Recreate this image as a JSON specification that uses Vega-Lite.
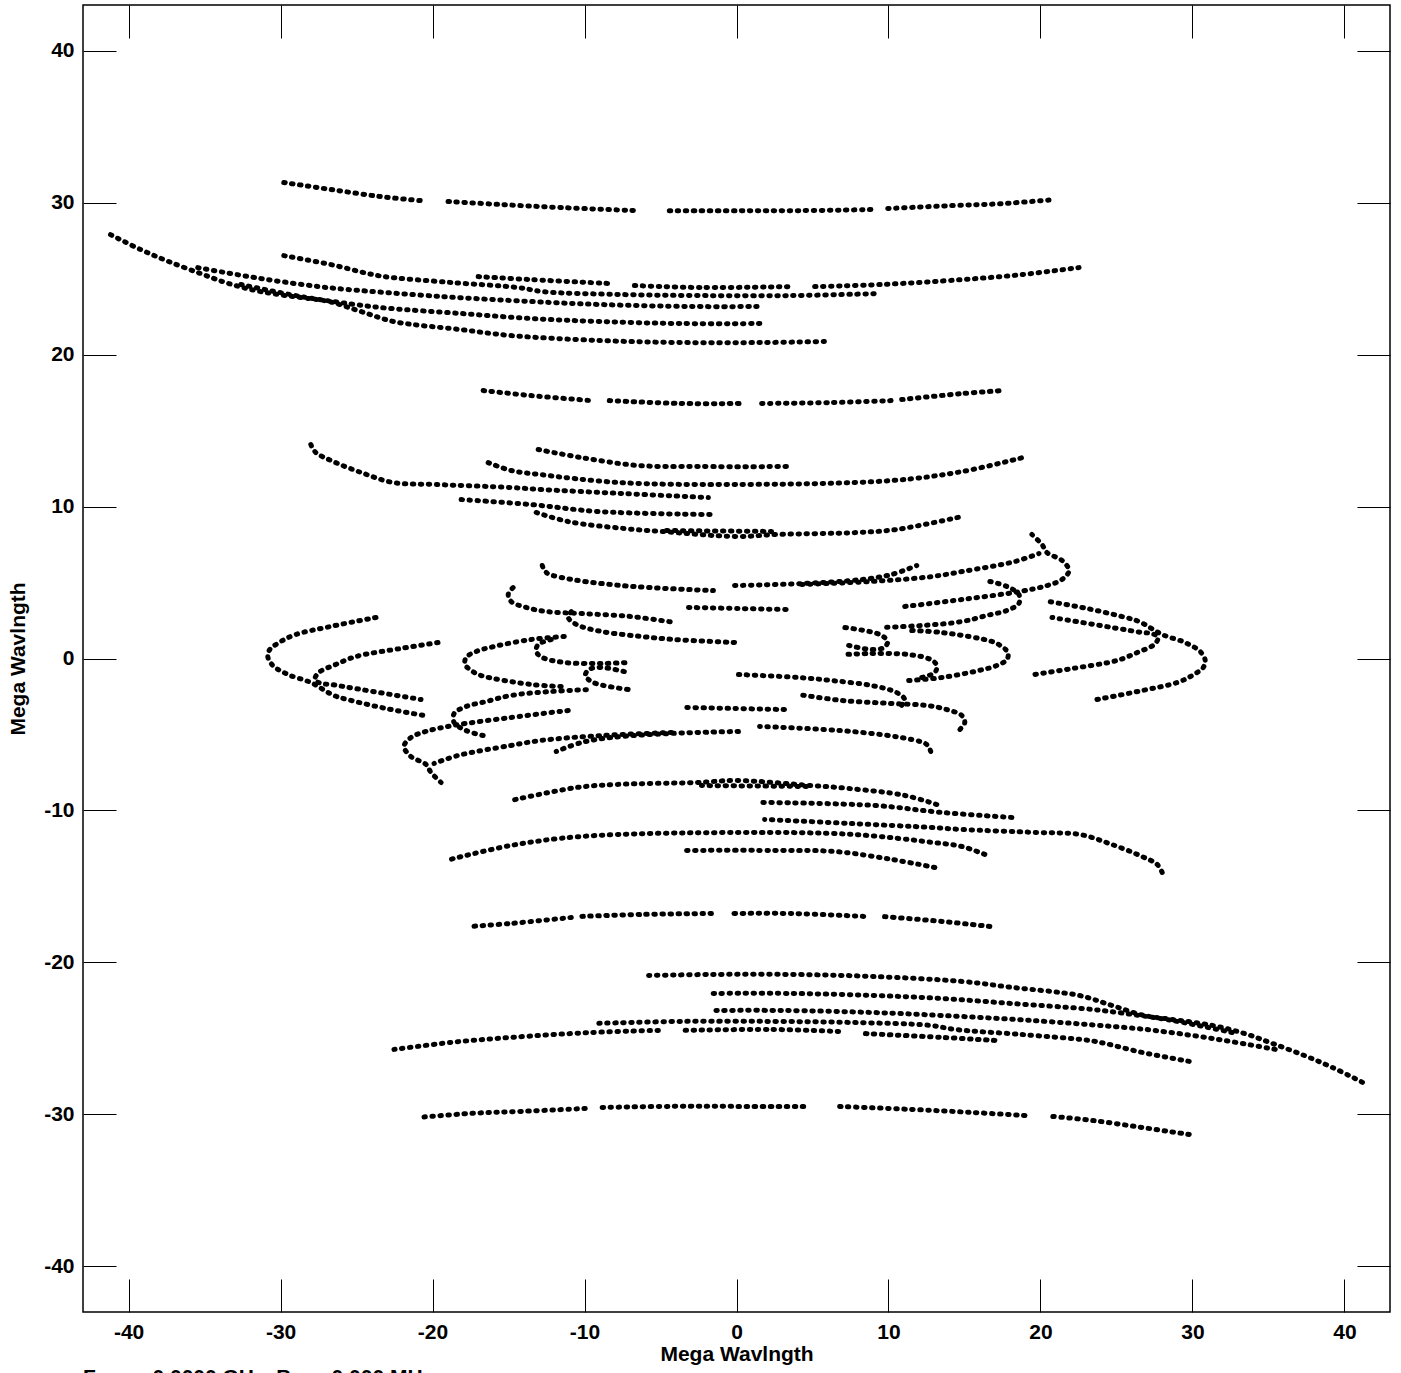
{
"$schema":"https://vega.github.io/schema/vega-lite/v6.json",
"width":1307,"height":1307,
"autosize":{"type":"none"},
"padding":{"left":83,"top":5,"right":11,"bottom":61},
"background":"white",
"config":{"view":{"stroke":"black","strokeWidth":1.5},"axis":{"tickColor":"black","tickWidth":1,"grid":false,"domain":false}},
"title":{"text":"Freq = 0.0000 GHz, Bw = 0.000 MHz","orient":"bottom","anchor":"start","frame":"group","fontSize":21,"fontWeight":"bold","font":"Liberation Sans","color":"black","baseline":"top","offset":3},
"data":{"values":[
{"t":"T30a","i":0,"u":-29.79,"v":31.32},{"t":"T30a","i":1,"u":-26.69,"v":30.86},{"t":"T30a","i":2,"u":-23.39,"v":30.39},{"t":"T30a","i":3,"u":-20.76,"v":30.13},
{"t":"T30b","i":0,"u":-18.98,"v":30.07},{"t":"T30b","i":1,"u":-15.49,"v":29.87},{"t":"T30b","i":2,"u":-11.53,"v":29.67},{"t":"T30b","i":3,"u":-6.59,"v":29.47},
{"t":"T30c","i":0,"u":-4.42,"v":29.47},{"t":"T30c","i":1,"u":0,"v":29.47},{"t":"T30c","i":2,"u":4.28,"v":29.47},{"t":"T30c","i":3,"u":8.9,"v":29.54},
{"t":"T30d","i":0,"u":9.95,"v":29.61},{"t":"T30d","i":1,"u":14.17,"v":29.8},{"t":"T30d","i":2,"u":17.46,"v":29.93},{"t":"T30d","i":3,"u":20.96,"v":30.2},
{"t":"L1","i":0,"u":-29.79,"v":26.51},{"t":"L1","i":1,"u":-26.69,"v":25.92},{"t":"L1","i":2,"u":-24.25,"v":25.33},{"t":"L1","i":3,"u":-23.2,"v":25.13},{"t":"L1","i":4,"u":-18.78,"v":24.74},{"t":"L1","i":5,"u":-14.37,"v":24.41},{"t":"L1","i":6,"u":-12.72,"v":24.14},{"t":"L1","i":7,"u":-7.58,"v":23.95},{"t":"L1","i":8,"u":-2.31,"v":23.88},{"t":"L1","i":9,"u":3.62,"v":23.88},{"t":"L1","i":10,"u":9.23,"v":24.01},
{"t":"Ca","i":0,"u":-17.0,"v":25.13},{"t":"Ca","i":1,"u":-13.51,"v":24.93},{"t":"Ca","i":2,"u":-8.24,"v":24.67},
{"t":"Cb","i":0,"u":-6.72,"v":24.54},{"t":"Cb","i":1,"u":-2.31,"v":24.41},{"t":"Cb","i":2,"u":3.43,"v":24.47},
{"t":"Cc","i":0,"u":5.14,"v":24.47},{"t":"Cc","i":1,"u":9.56,"v":24.61},{"t":"Cc","i":2,"u":14.83,"v":24.93},{"t":"Cc","i":3,"u":18.78,"v":25.26},{"t":"Cc","i":4,"u":22.54,"v":25.72},
{"t":"R3","i":0,"u":-35.45,"v":25.72},{"t":"R3","i":1,"u":-31.3,"v":25.0},{"t":"R3","i":2,"u":-27.48,"v":24.47},{"t":"R3","i":3,"u":-25.57,"v":24.28},{"t":"R3","i":4,"u":-19.44,"v":23.82},{"t":"R3","i":5,"u":-13.51,"v":23.49},{"t":"R3","i":6,"u":-8.9,"v":23.29},{"t":"R3","i":7,"u":-2.97,"v":23.16},{"t":"R3","i":8,"u":1.65,"v":23.16},
{"t":"R4","i":0,"u":-32.62,"v":24.61},{"t":"R4","i":1,"u":-28.67,"v":23.82},{"t":"R4","i":2,"u":-24.51,"v":23.22},{"t":"R4","i":3,"u":-22.73,"v":23.03},{"t":"R4","i":4,"u":-18.12,"v":22.7},{"t":"R4","i":5,"u":-13.51,"v":22.37},{"t":"R4","i":6,"u":-8.9,"v":22.17},{"t":"R4","i":7,"u":-3.62,"v":22.04},{"t":"R4","i":8,"u":1.85,"v":22.04},
{"t":"A","i":0,"u":-41.19,"v":27.89},{"t":"A","i":1,"u":-39.21,"v":26.91},{"t":"A","i":2,"u":-37.36,"v":26.12},{"t":"A","i":3,"u":-35.26,"v":25.33},{"t":"A","i":4,"u":-33.41,"v":24.67},{"t":"A","i":5,"u":-31.3,"v":24.14},{"t":"A","i":6,"u":-28.67,"v":23.75},{"t":"A","i":7,"u":-26.82,"v":23.49},{"t":"A","i":8,"u":-24.71,"v":22.83},{"t":"A","i":9,"u":-22.54,"v":22.17},{"t":"A","i":10,"u":-18.12,"v":21.64},{"t":"A","i":11,"u":-14.83,"v":21.25},{"t":"A","i":12,"u":-8.9,"v":20.92},{"t":"A","i":13,"u":-3.62,"v":20.79},{"t":"A","i":14,"u":1.65,"v":20.79},{"t":"A","i":15,"u":5.93,"v":20.86},
{"t":"M17a","i":0,"u":-16.67,"v":17.63},{"t":"M17a","i":1,"u":-13.51,"v":17.3},{"t":"M17a","i":2,"u":-9.56,"v":16.97},
{"t":"M17b","i":0,"u":-8.37,"v":16.97},{"t":"M17b","i":1,"u":-3.62,"v":16.78},{"t":"M17b","i":2,"u":0.46,"v":16.78},
{"t":"M17c","i":0,"u":1.65,"v":16.78},{"t":"M17c","i":1,"u":6.26,"v":16.84},{"t":"M17c","i":2,"u":10.21,"v":16.97},
{"t":"M17d","i":0,"u":10.87,"v":17.04},{"t":"M17d","i":1,"u":14.83,"v":17.43},{"t":"M17d","i":2,"u":17.46,"v":17.63},
{"t":"Um1","i":0,"u":-13.05,"v":13.75},{"t":"Um1","i":1,"u":-10.21,"v":13.22},{"t":"Um1","i":2,"u":-6.46,"v":12.7},{"t":"Um1","i":3,"u":-2.31,"v":12.63},{"t":"Um1","i":4,"u":3.62,"v":12.63},
{"t":"Um2","i":0,"u":-16.34,"v":12.89},{"t":"Um2","i":1,"u":-14.83,"v":12.37},{"t":"Um2","i":2,"u":-12.98,"v":12.11},{"t":"Um2","i":3,"u":-7.71,"v":11.58},{"t":"Um2","i":4,"u":0,"v":11.45},{"t":"Um2","i":5,"u":10.21,"v":11.71},{"t":"Um2","i":6,"u":14.83,"v":12.3},{"t":"Um2","i":7,"u":19.11,"v":13.29},
{"t":"Um3","i":0,"u":-28.01,"v":14.08},{"t":"Um3","i":1,"u":-27.68,"v":13.55},{"t":"Um3","i":2,"u":-26.69,"v":13.03},{"t":"Um3","i":3,"u":-24.71,"v":12.24},{"t":"Um3","i":4,"u":-22.6,"v":11.58},{"t":"Um3","i":5,"u":-19.77,"v":11.45},{"t":"Um3","i":6,"u":-14.83,"v":11.25},{"t":"Um3","i":7,"u":-12.85,"v":11.12},{"t":"Um3","i":8,"u":-7.58,"v":10.86},{"t":"Um3","i":9,"u":-1.85,"v":10.59},
{"t":"Um4","i":0,"u":-18.12,"v":10.46},{"t":"Um4","i":1,"u":-13.51,"v":10.13},{"t":"Um4","i":2,"u":-9.09,"v":9.67},{"t":"Um4","i":3,"u":-1.65,"v":9.47},
{"t":"Um5","i":0,"u":-13.18,"v":9.61},{"t":"Um5","i":1,"u":-11.07,"v":9.01},{"t":"Um5","i":2,"u":-7.38,"v":8.55},{"t":"Um5","i":3,"u":-4.94,"v":8.36},{"t":"Um5","i":4,"u":0,"v":8.03},{"t":"Um5","i":5,"u":2.64,"v":8.16},{"t":"Um5","i":6,"u":7.91,"v":8.29},{"t":"Um5","i":7,"u":10.54,"v":8.49},{"t":"Um5","i":8,"u":14.83,"v":9.34},
{"t":"Um6","i":0,"u":-4.61,"v":8.42},{"t":"Um6","i":1,"u":2.31,"v":8.36},
{"t":"C1","i":0,"u":-23.72,"v":2.7},{"t":"C1","i":1,"u":-26.69,"v":2.11},{"t":"C1","i":2,"u":-29.0,"v":1.58},{"t":"C1","i":3,"u":-29.98,"v":1.12},{"t":"C1","i":4,"u":-30.71,"v":0.59},{"t":"C1","i":5,"u":-30.84,"v":0.13},{"t":"C1","i":6,"u":-30.51,"v":-0.46},{"t":"C1","i":7,"u":-29.52,"v":-1.05},{"t":"C1","i":8,"u":-28.01,"v":-1.58},{"t":"C1","i":9,"u":-26.49,"v":-2.43},{"t":"C1","i":10,"u":-25.37,"v":-2.76},{"t":"C1","i":11,"u":-23.06,"v":-3.29},{"t":"C1","i":12,"u":-20.56,"v":-3.75},
{"t":"C2","i":0,"u":-19.64,"v":1.05},{"t":"C2","i":1,"u":-22.08,"v":0.66},{"t":"C2","i":2,"u":-25.04,"v":0.13},{"t":"C2","i":3,"u":-26.36,"v":-0.39},{"t":"C2","i":4,"u":-27.48,"v":-0.92},{"t":"C2","i":5,"u":-27.74,"v":-1.38},{"t":"C2","i":6,"u":-27.35,"v":-1.64},{"t":"C2","i":7,"u":-26.69,"v":-1.71},{"t":"C2","i":8,"u":-24.71,"v":-2.04},{"t":"C2","i":9,"u":-20.76,"v":-2.7},
{"t":"C3","i":0,"u":-14.7,"v":4.67},{"t":"C3","i":1,"u":-15.02,"v":4.21},{"t":"C3","i":2,"u":-14.83,"v":3.75},{"t":"C3","i":3,"u":-13.84,"v":3.36},{"t":"C3","i":4,"u":-12.52,"v":3.09},{"t":"C3","i":5,"u":-10.21,"v":2.96},{"t":"C3","i":6,"u":-6.92,"v":2.76},{"t":"C3","i":7,"u":-4.09,"v":2.37},
{"t":"C4","i":0,"u":-10.87,"v":3.09},{"t":"C4","i":1,"u":-11.07,"v":2.7},{"t":"C4","i":2,"u":-10.54,"v":2.24},{"t":"C4","i":3,"u":-8.9,"v":1.78},{"t":"C4","i":4,"u":-6.26,"v":1.45},{"t":"C4","i":5,"u":-4.09,"v":1.25},{"t":"C4","i":6,"u":0,"v":1.05},
{"t":"C5","i":0,"u":-11.33,"v":1.45},{"t":"C5","i":1,"u":-13.51,"v":1.25},{"t":"C5","i":2,"u":-15.95,"v":0.79},{"t":"C5","i":3,"u":-17.13,"v":0.46},{"t":"C5","i":4,"u":-17.79,"v":0.07},{"t":"C5","i":5,"u":-17.86,"v":-0.39},{"t":"C5","i":6,"u":-17.46,"v":-0.79},{"t":"C5","i":7,"u":-16.8,"v":-1.12},{"t":"C5","i":8,"u":-13.51,"v":-1.71},{"t":"C5","i":9,"u":-11.53,"v":-1.84},
{"t":"C6","i":0,"u":-12.19,"v":1.25},{"t":"C6","i":1,"u":-13.05,"v":0.92},{"t":"C6","i":2,"u":-13.18,"v":0.46},{"t":"C6","i":3,"u":-12.78,"v":0.07},{"t":"C6","i":4,"u":-11.33,"v":-0.26},{"t":"C6","i":5,"u":-8.9,"v":-0.33},{"t":"C6","i":6,"u":-7.12,"v":-0.26},
{"t":"C7","i":0,"u":-7.38,"v":-0.86},{"t":"C7","i":1,"u":-8.9,"v":-0.59},{"t":"C7","i":2,"u":-9.69,"v":-0.72},{"t":"C7","i":3,"u":-9.95,"v":-1.12},{"t":"C7","i":4,"u":-9.42,"v":-1.58},{"t":"C7","i":5,"u":-7.12,"v":-2.04},
{"t":"C8","i":0,"u":-12.78,"v":6.12},{"t":"C8","i":1,"u":-12.52,"v":5.66},{"t":"C8","i":2,"u":-11.53,"v":5.33},{"t":"C8","i":3,"u":-7.58,"v":4.8},{"t":"C8","i":4,"u":-1.52,"v":4.47},
{"t":"C9","i":0,"u":-0.13,"v":4.8},{"t":"C9","i":1,"u":4.28,"v":4.93},{"t":"C9","i":2,"u":8.24,"v":5.2},{"t":"C9","i":3,"u":10.21,"v":5.53},{"t":"C9","i":4,"u":11.86,"v":6.12},
{"t":"S1","i":0,"u":-3.16,"v":3.36},{"t":"S1","i":1,"u":0.13,"v":3.29},{"t":"S1","i":2,"u":3.43,"v":3.22},
{"t":"Ta","i":0,"u":11.07,"v":3.42},{"t":"Ta","i":1,"u":14.83,"v":3.88},{"t":"Ta","i":2,"u":18.65,"v":4.41},{"t":"Ta","i":3,"u":20.43,"v":4.8},{"t":"Ta","i":4,"u":21.42,"v":5.2},{"t":"Ta","i":5,"u":21.88,"v":5.79},{"t":"Ta","i":6,"u":21.42,"v":6.45},{"t":"Ta","i":7,"u":20.43,"v":6.97},{"t":"Ta","i":8,"u":20.1,"v":7.5},{"t":"Ta","i":9,"u":19.44,"v":8.16},
{"t":"Tb","i":0,"u":4.28,"v":4.87},{"t":"Tb","i":1,"u":8.9,"v":5.07},{"t":"Tb","i":2,"u":12.85,"v":5.39},{"t":"Tb","i":3,"u":14.83,"v":5.72},{"t":"Tb","i":4,"u":18.32,"v":6.38},{"t":"Tb","i":5,"u":19.9,"v":6.91},
{"t":"Tc","i":0,"u":16.67,"v":5.07},{"t":"Tc","i":1,"u":17.79,"v":4.74},{"t":"Tc","i":2,"u":18.58,"v":4.21},{"t":"Tc","i":3,"u":18.58,"v":3.62},{"t":"Tc","i":4,"u":17.79,"v":3.16},{"t":"Tc","i":5,"u":16.47,"v":2.83},{"t":"Tc","i":6,"u":14.83,"v":2.43},{"t":"Tc","i":7,"u":12.19,"v":2.17},{"t":"Tc","i":8,"u":9.56,"v":2.04},

{"t":"T30am","i":0,"u":29.79,"v":-31.32},{"t":"T30am","i":1,"u":26.69,"v":-30.86},{"t":"T30am","i":2,"u":23.39,"v":-30.39},{"t":"T30am","i":3,"u":20.76,"v":-30.13},
{"t":"T30bm","i":0,"u":18.98,"v":-30.07},{"t":"T30bm","i":1,"u":15.49,"v":-29.87},{"t":"T30bm","i":2,"u":11.53,"v":-29.67},{"t":"T30bm","i":3,"u":6.59,"v":-29.47},
{"t":"T30cm","i":0,"u":4.42,"v":-29.47},{"t":"T30cm","i":1,"u":0,"v":-29.47},{"t":"T30cm","i":2,"u":-4.28,"v":-29.47},{"t":"T30cm","i":3,"u":-8.9,"v":-29.54},
{"t":"T30dm","i":0,"u":-9.95,"v":-29.61},{"t":"T30dm","i":1,"u":-14.17,"v":-29.8},{"t":"T30dm","i":2,"u":-17.46,"v":-29.93},{"t":"T30dm","i":3,"u":-20.96,"v":-30.2},
{"t":"L1m","i":0,"u":29.79,"v":-26.51},{"t":"L1m","i":1,"u":26.69,"v":-25.92},{"t":"L1m","i":2,"u":24.25,"v":-25.33},{"t":"L1m","i":3,"u":23.2,"v":-25.13},{"t":"L1m","i":4,"u":18.78,"v":-24.74},{"t":"L1m","i":5,"u":14.37,"v":-24.41},{"t":"L1m","i":6,"u":12.72,"v":-24.14},{"t":"L1m","i":7,"u":7.58,"v":-23.95},{"t":"L1m","i":8,"u":2.31,"v":-23.88},{"t":"L1m","i":9,"u":-3.62,"v":-23.88},{"t":"L1m","i":10,"u":-9.23,"v":-24.01},
{"t":"Cam","i":0,"u":17.0,"v":-25.13},{"t":"Cam","i":1,"u":13.51,"v":-24.93},{"t":"Cam","i":2,"u":8.24,"v":-24.67},
{"t":"Cbm","i":0,"u":6.72,"v":-24.54},{"t":"Cbm","i":1,"u":2.31,"v":-24.41},{"t":"Cbm","i":2,"u":-3.43,"v":-24.47},
{"t":"Ccm","i":0,"u":-5.14,"v":-24.47},{"t":"Ccm","i":1,"u":-9.56,"v":-24.61},{"t":"Ccm","i":2,"u":-14.83,"v":-24.93},{"t":"Ccm","i":3,"u":-18.78,"v":-25.26},{"t":"Ccm","i":4,"u":-22.54,"v":-25.72},
{"t":"R3m","i":0,"u":35.45,"v":-25.72},{"t":"R3m","i":1,"u":31.3,"v":-25.0},{"t":"R3m","i":2,"u":27.48,"v":-24.47},{"t":"R3m","i":3,"u":25.57,"v":-24.28},{"t":"R3m","i":4,"u":19.44,"v":-23.82},{"t":"R3m","i":5,"u":13.51,"v":-23.49},{"t":"R3m","i":6,"u":8.9,"v":-23.29},{"t":"R3m","i":7,"u":2.97,"v":-23.16},{"t":"R3m","i":8,"u":-1.65,"v":-23.16},
{"t":"R4m","i":0,"u":32.62,"v":-24.61},{"t":"R4m","i":1,"u":28.67,"v":-23.82},{"t":"R4m","i":2,"u":24.51,"v":-23.22},{"t":"R4m","i":3,"u":22.73,"v":-23.03},{"t":"R4m","i":4,"u":18.12,"v":-22.7},{"t":"R4m","i":5,"u":13.51,"v":-22.37},{"t":"R4m","i":6,"u":8.9,"v":-22.17},{"t":"R4m","i":7,"u":3.62,"v":-22.04},{"t":"R4m","i":8,"u":-1.85,"v":-22.04},
{"t":"Am","i":0,"u":41.19,"v":-27.89},{"t":"Am","i":1,"u":39.21,"v":-26.91},{"t":"Am","i":2,"u":37.36,"v":-26.12},{"t":"Am","i":3,"u":35.26,"v":-25.33},{"t":"Am","i":4,"u":33.41,"v":-24.67},{"t":"Am","i":5,"u":31.3,"v":-24.14},{"t":"Am","i":6,"u":28.67,"v":-23.75},{"t":"Am","i":7,"u":26.82,"v":-23.49},{"t":"Am","i":8,"u":24.71,"v":-22.83},{"t":"Am","i":9,"u":22.54,"v":-22.17},{"t":"Am","i":10,"u":18.12,"v":-21.64},{"t":"Am","i":11,"u":14.83,"v":-21.25},{"t":"Am","i":12,"u":8.9,"v":-20.92},{"t":"Am","i":13,"u":3.62,"v":-20.79},{"t":"Am","i":14,"u":-1.65,"v":-20.79},{"t":"Am","i":15,"u":-5.93,"v":-20.86},
{"t":"M17am","i":0,"u":16.67,"v":-17.63},{"t":"M17am","i":1,"u":13.51,"v":-17.3},{"t":"M17am","i":2,"u":9.56,"v":-16.97},
{"t":"M17bm","i":0,"u":8.37,"v":-16.97},{"t":"M17bm","i":1,"u":3.62,"v":-16.78},{"t":"M17bm","i":2,"u":-0.46,"v":-16.78},
{"t":"M17cm","i":0,"u":-1.65,"v":-16.78},{"t":"M17cm","i":1,"u":-6.26,"v":-16.84},{"t":"M17cm","i":2,"u":-10.21,"v":-16.97},
{"t":"M17dm","i":0,"u":-10.87,"v":-17.04},{"t":"M17dm","i":1,"u":-14.83,"v":-17.43},{"t":"M17dm","i":2,"u":-17.46,"v":-17.63},
{"t":"Um1m","i":0,"u":13.05,"v":-13.75},{"t":"Um1m","i":1,"u":10.21,"v":-13.22},{"t":"Um1m","i":2,"u":6.46,"v":-12.7},{"t":"Um1m","i":3,"u":2.31,"v":-12.63},{"t":"Um1m","i":4,"u":-3.62,"v":-12.63},
{"t":"Um2m","i":0,"u":16.34,"v":-12.89},{"t":"Um2m","i":1,"u":14.83,"v":-12.37},{"t":"Um2m","i":2,"u":12.98,"v":-12.11},{"t":"Um2m","i":3,"u":7.71,"v":-11.58},{"t":"Um2m","i":4,"u":0,"v":-11.45},{"t":"Um2m","i":5,"u":-10.21,"v":-11.71},{"t":"Um2m","i":6,"u":-14.83,"v":-12.3},{"t":"Um2m","i":7,"u":-19.11,"v":-13.29},
{"t":"Um3m","i":0,"u":28.01,"v":-14.08},{"t":"Um3m","i":1,"u":27.68,"v":-13.55},{"t":"Um3m","i":2,"u":26.69,"v":-13.03},{"t":"Um3m","i":3,"u":24.71,"v":-12.24},{"t":"Um3m","i":4,"u":22.6,"v":-11.58},{"t":"Um3m","i":5,"u":19.77,"v":-11.45},{"t":"Um3m","i":6,"u":14.83,"v":-11.25},{"t":"Um3m","i":7,"u":12.85,"v":-11.12},{"t":"Um3m","i":8,"u":7.58,"v":-10.86},{"t":"Um3m","i":9,"u":1.85,"v":-10.59},
{"t":"Um4m","i":0,"u":18.12,"v":-10.46},{"t":"Um4m","i":1,"u":13.51,"v":-10.13},{"t":"Um4m","i":2,"u":9.09,"v":-9.67},{"t":"Um4m","i":3,"u":1.65,"v":-9.47},
{"t":"Um5m","i":0,"u":13.18,"v":-9.61},{"t":"Um5m","i":1,"u":11.07,"v":-9.01},{"t":"Um5m","i":2,"u":7.38,"v":-8.55},{"t":"Um5m","i":3,"u":4.94,"v":-8.36},{"t":"Um5m","i":4,"u":0,"v":-8.03},{"t":"Um5m","i":5,"u":-2.64,"v":-8.16},{"t":"Um5m","i":6,"u":-7.91,"v":-8.29},{"t":"Um5m","i":7,"u":-10.54,"v":-8.49},{"t":"Um5m","i":8,"u":-14.83,"v":-9.34},
{"t":"Um6m","i":0,"u":4.61,"v":-8.42},{"t":"Um6m","i":1,"u":-2.31,"v":-8.36},
{"t":"C1m","i":0,"u":23.72,"v":-2.7},{"t":"C1m","i":1,"u":26.69,"v":-2.11},{"t":"C1m","i":2,"u":29.0,"v":-1.58},{"t":"C1m","i":3,"u":29.98,"v":-1.12},{"t":"C1m","i":4,"u":30.71,"v":-0.59},{"t":"C1m","i":5,"u":30.84,"v":-0.13},{"t":"C1m","i":6,"u":30.51,"v":0.46},{"t":"C1m","i":7,"u":29.52,"v":1.05},{"t":"C1m","i":8,"u":28.01,"v":1.58},{"t":"C1m","i":9,"u":26.49,"v":2.43},{"t":"C1m","i":10,"u":25.37,"v":2.76},{"t":"C1m","i":11,"u":23.06,"v":3.29},{"t":"C1m","i":12,"u":20.56,"v":3.75},
{"t":"C2m","i":0,"u":19.64,"v":-1.05},{"t":"C2m","i":1,"u":22.08,"v":-0.66},{"t":"C2m","i":2,"u":25.04,"v":-0.13},{"t":"C2m","i":3,"u":26.36,"v":0.39},{"t":"C2m","i":4,"u":27.48,"v":0.92},{"t":"C2m","i":5,"u":27.74,"v":1.38},{"t":"C2m","i":6,"u":27.35,"v":1.64},{"t":"C2m","i":7,"u":26.69,"v":1.71},{"t":"C2m","i":8,"u":24.71,"v":2.04},{"t":"C2m","i":9,"u":20.76,"v":2.7},
{"t":"C3m","i":0,"u":14.7,"v":-4.67},{"t":"C3m","i":1,"u":15.02,"v":-4.21},{"t":"C3m","i":2,"u":14.83,"v":-3.75},{"t":"C3m","i":3,"u":13.84,"v":-3.36},{"t":"C3m","i":4,"u":12.52,"v":-3.09},{"t":"C3m","i":5,"u":10.21,"v":-2.96},{"t":"C3m","i":6,"u":6.92,"v":-2.76},{"t":"C3m","i":7,"u":4.09,"v":-2.37},
{"t":"C4m","i":0,"u":10.87,"v":-3.09},{"t":"C4m","i":1,"u":11.07,"v":-2.7},{"t":"C4m","i":2,"u":10.54,"v":-2.24},{"t":"C4m","i":3,"u":8.9,"v":-1.78},{"t":"C4m","i":4,"u":6.26,"v":-1.45},{"t":"C4m","i":5,"u":4.09,"v":-1.25},{"t":"C4m","i":6,"u":0,"v":-1.05},
{"t":"C5m","i":0,"u":11.33,"v":-1.45},{"t":"C5m","i":1,"u":13.51,"v":-1.25},{"t":"C5m","i":2,"u":15.95,"v":-0.79},{"t":"C5m","i":3,"u":17.13,"v":-0.46},{"t":"C5m","i":4,"u":17.79,"v":-0.07},{"t":"C5m","i":5,"u":17.86,"v":0.39},{"t":"C5m","i":6,"u":17.46,"v":0.79},{"t":"C5m","i":7,"u":16.8,"v":1.12},{"t":"C5m","i":8,"u":13.51,"v":1.71},{"t":"C5m","i":9,"u":11.53,"v":1.84},
{"t":"C6m","i":0,"u":12.19,"v":-1.25},{"t":"C6m","i":1,"u":13.05,"v":-0.92},{"t":"C6m","i":2,"u":13.18,"v":-0.46},{"t":"C6m","i":3,"u":12.78,"v":-0.07},{"t":"C6m","i":4,"u":11.33,"v":0.26},{"t":"C6m","i":5,"u":8.9,"v":0.33},{"t":"C6m","i":6,"u":7.12,"v":0.26},
{"t":"C7m","i":0,"u":7.38,"v":0.86},{"t":"C7m","i":1,"u":8.9,"v":0.59},{"t":"C7m","i":2,"u":9.69,"v":0.72},{"t":"C7m","i":3,"u":9.95,"v":1.12},{"t":"C7m","i":4,"u":9.42,"v":1.58},{"t":"C7m","i":5,"u":7.12,"v":2.04},
{"t":"C8m","i":0,"u":12.78,"v":-6.12},{"t":"C8m","i":1,"u":12.52,"v":-5.66},{"t":"C8m","i":2,"u":11.53,"v":-5.33},{"t":"C8m","i":3,"u":7.58,"v":-4.8},{"t":"C8m","i":4,"u":1.52,"v":-4.47},
{"t":"C9m","i":0,"u":0.13,"v":-4.8},{"t":"C9m","i":1,"u":-4.28,"v":-4.93},{"t":"C9m","i":2,"u":-8.24,"v":-5.2},{"t":"C9m","i":3,"u":-10.21,"v":-5.53},{"t":"C9m","i":4,"u":-11.86,"v":-6.12},
{"t":"S1m","i":0,"u":3.16,"v":-3.36},{"t":"S1m","i":1,"u":-0.13,"v":-3.29},{"t":"S1m","i":2,"u":-3.43,"v":-3.22},
{"t":"Tam","i":0,"u":-11.07,"v":-3.42},{"t":"Tam","i":1,"u":-14.83,"v":-3.88},{"t":"Tam","i":2,"u":-18.65,"v":-4.41},{"t":"Tam","i":3,"u":-20.43,"v":-4.8},{"t":"Tam","i":4,"u":-21.42,"v":-5.2},{"t":"Tam","i":5,"u":-21.88,"v":-5.79},{"t":"Tam","i":6,"u":-21.42,"v":-6.45},{"t":"Tam","i":7,"u":-20.43,"v":-6.97},{"t":"Tam","i":8,"u":-20.1,"v":-7.5},{"t":"Tam","i":9,"u":-19.44,"v":-8.16},
{"t":"Tbm","i":0,"u":-4.28,"v":-4.87},{"t":"Tbm","i":1,"u":-8.9,"v":-5.07},{"t":"Tbm","i":2,"u":-12.85,"v":-5.39},{"t":"Tbm","i":3,"u":-14.83,"v":-5.72},{"t":"Tbm","i":4,"u":-18.32,"v":-6.38},{"t":"Tbm","i":5,"u":-19.9,"v":-6.91},
{"t":"Tcm","i":0,"u":-16.67,"v":-5.07},{"t":"Tcm","i":1,"u":-17.79,"v":-4.74},{"t":"Tcm","i":2,"u":-18.58,"v":-4.21},{"t":"Tcm","i":3,"u":-18.58,"v":-3.62},{"t":"Tcm","i":4,"u":-17.79,"v":-3.16},{"t":"Tcm","i":5,"u":-16.47,"v":-2.83},{"t":"Tcm","i":6,"u":-14.83,"v":-2.43},{"t":"Tcm","i":7,"u":-12.19,"v":-2.17},{"t":"Tcm","i":8,"u":-9.56,"v":-2.04}
]},
"layer":[
{"mark":{"type":"line","color":"black","strokeWidth":5,"strokeDash":[1.5,6.5],"strokeCap":"round","interpolate":"catmull-rom"},
 "encoding":{
  "x":{"field":"u","type":"quantitative","scale":{"domain":[-43,43],"nice":false,"zero":false},
       "axis":{"orient":"bottom","values":[-40,-30,-20,-10,0,10,20,30,40],"offset":-33,"tickSize":33,"labelPadding":9,"labelExpr":"'' + datum.value","labelFont":"Liberation Sans","labelFontSize":21,"labelFontWeight":"bold","labelColor":"black","title":"Mega Wavlngth","titleFont":"Liberation Sans","titleFontSize":21,"titleFontWeight":"bold","titleColor":"black","titlePadding":1}},
  "y":{"field":"v","type":"quantitative","scale":{"domain":[-43,43],"nice":false,"zero":false},
       "axis":{"orient":"left","values":[-40,-30,-20,-10,0,10,20,30,40],"offset":-33,"tickSize":33,"labelPadding":9,"labelExpr":"'' + datum.value","labelFont":"Liberation Sans","labelFontSize":21,"labelFontWeight":"bold","labelColor":"black","title":"Mega Wavlngth","titleFont":"Liberation Sans","titleFontSize":21,"titleFontWeight":"bold","titleColor":"black","titlePadding":15}},
  "detail":{"field":"t","type":"nominal"},
  "order":{"field":"i","type":"quantitative"}
 }},
{"mark":{"type":"point","opacity":0},
 "encoding":{
  "x":{"field":"u","type":"quantitative","axis":{"orient":"top","values":[-40,-30,-20,-10,0,10,20,30,40],"offset":-33,"tickSize":33,"labels":false,"title":null}},
  "y":{"field":"v","type":"quantitative","axis":{"orient":"right","values":[-40,-30,-20,-10,0,10,20,30,40],"offset":-33,"tickSize":33,"labels":false,"title":null}}
 }}
],
"resolve":{"axis":{"x":"independent","y":"independent"}}
}
